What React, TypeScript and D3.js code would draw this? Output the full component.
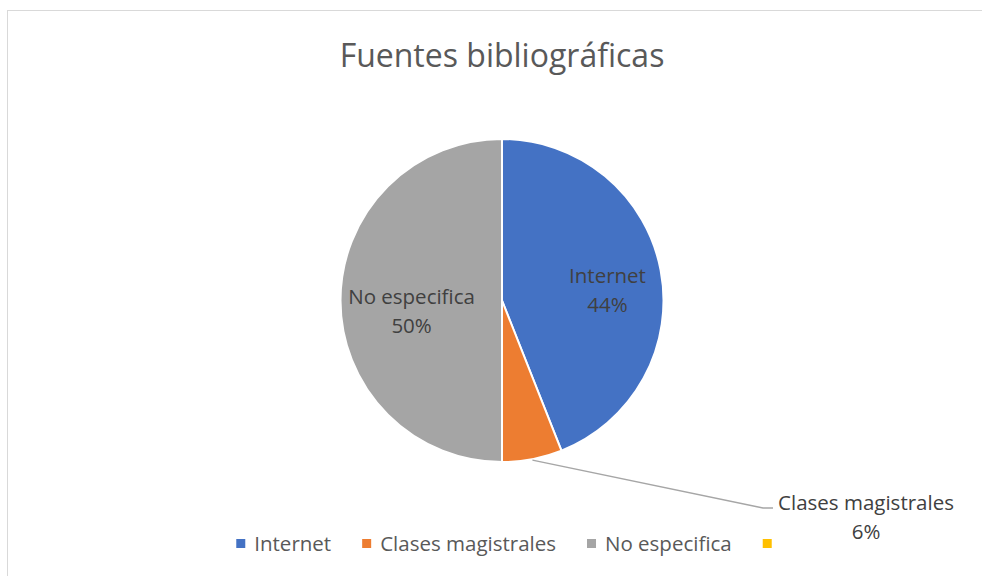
import { useEffect, useRef } from 'react';
import * as d3 from 'd3';

// datos del gráfico
const categories = ['Internet', 'Clases magistrales', 'No especifica', ''];
const values = [44, 6, 50, 0];
const colors = ['#4472C4', '#ED7D31', '#A5A5A5', '#FFC000'];
const title = 'Fuentes bibliográficas';

const W = 982;
const H = 576;
const FONT = '"Open Sans", sans-serif';
const TEXT = '#595959';

export default function App() {
  const svgRef = useRef<SVGSVGElement>(null);

  useEffect(() => {
    if (!svgRef.current) return;
    const svg = d3.select(svgRef.current);
    svg.selectAll('*').remove();

    // marco del gráfico
    svg.append('rect')
      .attr('x', 7.5).attr('y', 10.5)
      .attr('width', W).attr('height', H)
      .attr('fill', '#fff')
      .attr('stroke', '#d9d9d9').attr('stroke-width', 1);

    // título
    svg.append('text')
      .attr('x', 502).attr('y', 67)
      .attr('text-anchor', 'middle')
      .attr('font-family', FONT)
      .attr('font-size', 32)
      .attr('fill', TEXT)
      .text(title);

    const cx = 502;
    const cy = 300.5;
    const r = 161.5;
    const total = d3.sum(values);

    const data = categories.map((c, i) => ({ name: c, value: values[i], color: colors[i] }));
    const pie = d3.pie<typeof data[0]>().sort(null).value(d => d.value);
    const arcs = pie(data).filter(a => a.data.value > 0);
    const arc = d3.arc<d3.PieArcDatum<typeof data[0]>>().innerRadius(0).outerRadius(r);

    const g = svg.append('g').attr('transform', `translate(${cx},${cy})`);

    g.selectAll('path')
      .data(arcs)
      .join('path')
      .attr('d', arc)
      .attr('fill', d => d.data.color)
      .attr('stroke', '#fff')
      .attr('stroke-width', 2);

    const pct = (v: number) => `${Math.round((v / total) * 100)}%`;
    const mid = (a: d3.PieArcDatum<any>) => (a.startAngle + a.endAngle) / 2;

    // etiquetas internas / externas
    arcs.forEach(a => {
      const share = a.data.value / total;
      const m = mid(a);
      if (share >= 0.1) {
        const rho = share > 0.47 ? r * 0.56 : r * 0.665;
        const x = Math.sin(m) * rho;
        const y = -Math.cos(m) * rho;
        const t = g.append('text')
          .attr('text-anchor', 'middle')
          .attr('font-family', FONT)
          .attr('font-size', 20.5)
          .attr('fill', '#404040');
        t.append('tspan').attr('x', x).attr('y', y + 3).text(a.data.name);
        t.append('tspan').attr('x', x).attr('y', y + 32).text(pct(a.data.value));
      } else {
        // línea guía hacia la etiqueta externa
        const p0: [number, number] = [Math.sin(m) * (r + 1), -Math.cos(m) * (r + 1)];
        const p1: [number, number] = [261, 207.5];
        const p2: [number, number] = [271, 207.5];
        g.append('path')
          .attr('d', d3.line()([p0, p1, p2]))
          .attr('fill', 'none')
          .attr('stroke', '#a6a6a6')
          .attr('stroke-width', 1.5);
        const t = g.append('text')
          .attr('text-anchor', 'middle')
          .attr('font-family', FONT)
          .attr('font-size', 20.5)
          .attr('fill', '#404040');
        t.append('tspan').attr('x', 364).attr('y', 209.5).text(a.data.name);
        t.append('tspan').attr('x', 364).attr('y', 238).text(pct(a.data.value));
      }
    });

    // leyenda
    const legend = svg.append('g');
    const items = legend.selectAll('g')
      .data(data)
      .join('g');
    items.append('rect')
      .attr('width', 9).attr('height', 9)
      .attr('y', 539)
      .attr('fill', d => d.color);
    items.append('text')
      .attr('y', 551)
      .attr('font-family', FONT)
      .attr('font-size', 20.5)
      .attr('fill', TEXT)
      .text(d => d.name);

    const widths: number[] = [];
    items.each(function () {
      const txt = d3.select(this).select('text').node() as SVGTextElement;
      const tw = txt.textContent ? txt.getComputedTextLength() : 0;
      widths.push(9 + (tw ? 9 + tw : 0));
    });
    const gap = 31;
    const totalW = d3.sum(widths) + gap * (widths.length - 1);
    let x0 = 504 - totalW / 2;
    items.each(function (_, i) {
      const s = d3.select(this);
      s.select('rect').attr('x', x0);
      s.select('text').attr('x', x0 + 18);
      x0 += widths[i] + gap;
    });
  }, []);

  return (
    <div style={{ position: 'absolute', left: 0, top: 0, width: W, height: H, overflow: 'hidden', background: '#fff' }}>
      <svg ref={svgRef} width={W} height={H} style={{ display: 'block' }}></svg>
    </div>
  );
}
